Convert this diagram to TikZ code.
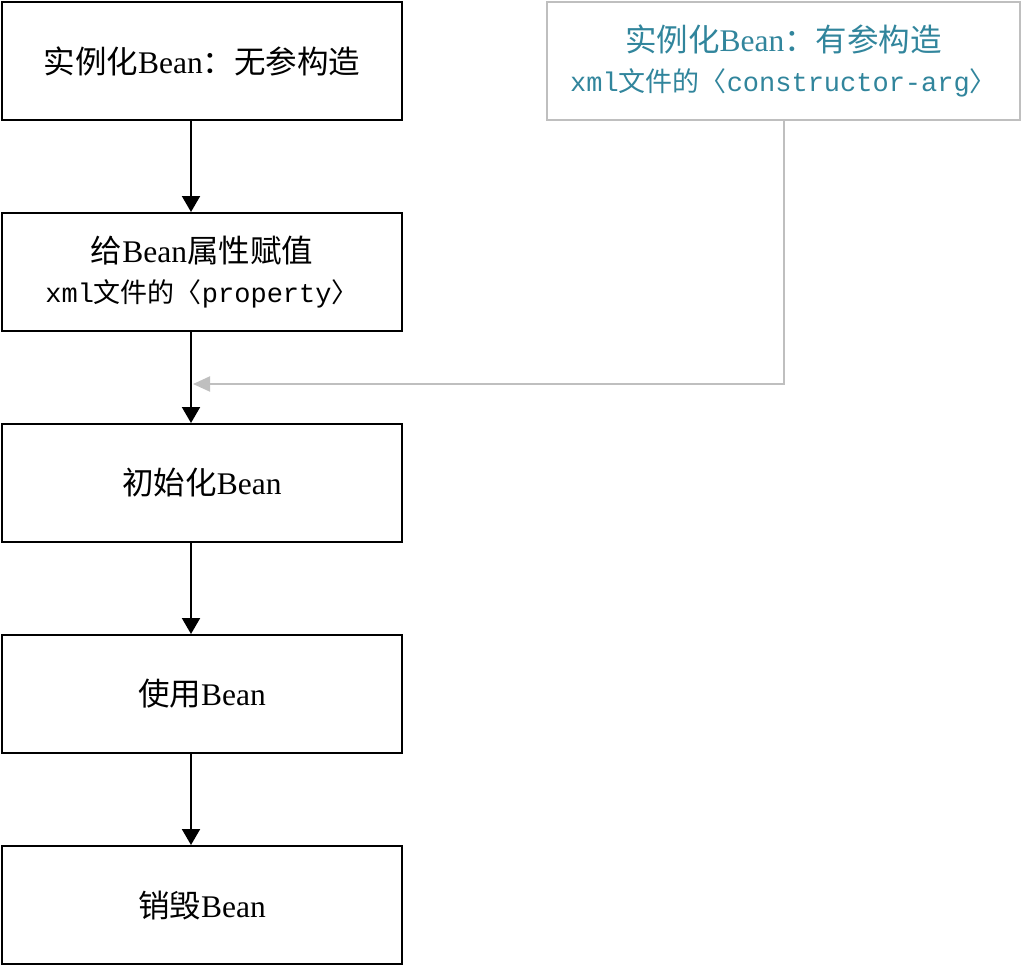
\documentclass[tikz,border=0pt]{standalone}
\usepackage{fontspec}
\setmainfont{Liberation Serif}
\newfontfamily\cjk{Noto Sans CJK SC}
\newfontfamily\mono{Liberation Mono}
\usetikzlibrary{arrows.meta}
\definecolor{custom_teal}{HTML}{31859C}
\definecolor{custom_gray}{HTML}{BFBFBF}

\begin{document}
\begin{tikzpicture}[x=1pt, y=-1pt,
    stage/.style={draw, line width=2pt, minimum width=400pt, minimum height=118pt,
      align=center, inner sep=0pt, font=\fontsize{31.5}{40}\selectfont},
    flow/.style={line width=2pt, -{Triangle[length=16pt, width=18pt]}},
    sideflow/.style={line width=2pt, custom_gray, -{Triangle[length=17pt, width=15pt]}}]
      \useasboundingbox (0,0) rectangle (1022,967);

      \node[stage] (inst) at (202,61) {{\cjk 实例化}Bean{\cjk ：无参构造}};
      \node[stage] (prop) at (202,272) {{\cjk 给}Bean{\cjk 属性赋值}\\
        {\fontsize{27}{40}\selectfont\mono xml{\cjk 文件的〈}property{\cjk 〉}}};
      \node[stage] (init) at (202,483) {{\cjk 初始化}Bean};
      \node[stage] (use) at (202,694) {{\cjk 使用}Bean};
      \node[stage] (kill) at (202,905) {{\cjk 销毁}Bean};
      \node[stage, draw=custom_gray, text=custom_teal, minimum width=473pt] (ctor) at (783.5,61)
        {{\cjk 实例化}Bean{\cjk ：有参构造}\\
        {\fontsize{27}{40}\selectfont\mono xml{\cjk 文件的〈}constructor-arg{\cjk 〉}}};

      \coordinate (spine) at (191,0);
      \coordinate (join) at (193,384);

      \draw[flow] (inst.south -| spine) -- (prop.north -| spine);
      \draw[flow] (prop.south -| spine) -- (init.north -| spine);
      \draw[flow] (init.south -| spine) -- (use.north -| spine);
      \draw[flow] (use.south -| spine) -- (kill.north -| spine);

      \draw[sideflow] (ctor.south) |- (join);

    \end{tikzpicture}
\end{document}
